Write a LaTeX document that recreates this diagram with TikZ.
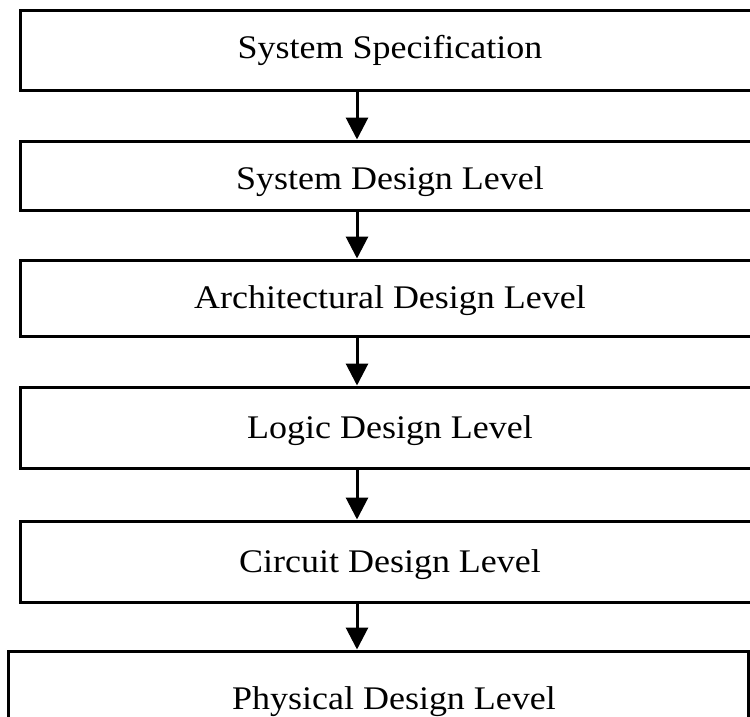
\documentclass[tikz,border=0pt]{standalone}
\usepackage{fontspec}
\setmainfont{Liberation Serif}
\newfontfamily\boxfont[FakeStretch=1.09]{Liberation Serif}
\usetikzlibrary{positioning,arrows.meta}
\tikzset{
  stage/.style = {draw, line width=3pt, minimum width=740pt, inner sep=0pt,
                  font=\boxfont\fontsize{33}{38}\selectfont, text depth=0pt},
  flow/.style  = {-{Triangle[width=22pt,length=22pt]}, line width=3pt}
}

\begin{document}
\begin{tikzpicture}[x=1pt,y=-1pt]
  \useasboundingbox (0,0) rectangle (750,717);
  \clip (0,0) rectangle (750,717);
  % design flow, top to bottom
  \node[stage, minimum height=80pt, text height=16pt] (spec) at (390,51)    {System Specification};
  \node[stage, minimum height=69pt, text height=27pt] (sysd) at (390,175.5) {System Design Level};
  \node[stage, minimum height=76pt, text height=21pt] (arch) at (390,298)   {Architectural Design Level};
  \node[stage, minimum height=81pt, text height=21pt] (logic) at (390,427.5) {Logic Design Level};
  \node[stage, minimum height=81pt, text height=21pt] (circ) at (390,561.5) {Circuit Design Level};
  \node[stage, minimum height=89pt,
        label={[anchor=base, xshift=15.5pt, yshift=-6.5pt,
                font=\boxfont\fontsize{33}{38}\selectfont]center:Physical Design Level}]
        (phys) at (378.5,695.5) {};
  \coordinate (axis) at (357,0);
  \foreach \a/\b in {spec/sysd, sysd/arch, arch/logic, logic/circ, circ/phys}
    \draw[flow] (\a.south -| axis) -- (\b.north -| axis);
\end{tikzpicture}
\end{document}
